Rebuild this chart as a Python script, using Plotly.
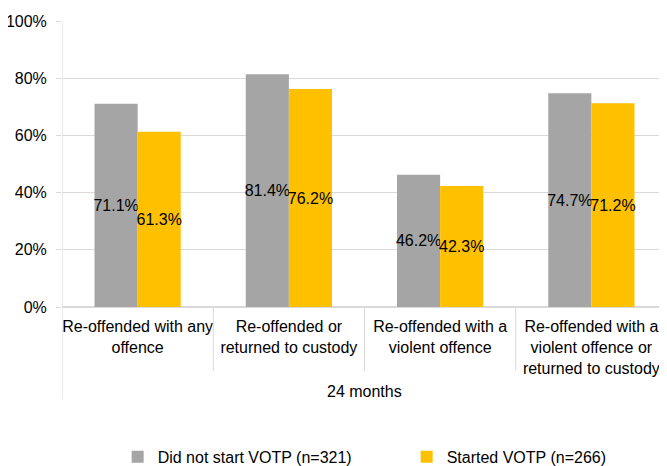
import plotly.graph_objects as go

categories = [
    "Re-offended with any<br>offence",
    "Re-offended or<br>returned to custody",
    "Re-offended with a<br>violent offence",
    "Re-offended with a<br>violent offence or<br>returned to custody",
]
group_label = "24 months"
series_names = ["Did not start VOTP (n=321)", "Started VOTP (n=266)"]
not_started = [0.711, 0.814, 0.462, 0.747]
started = [0.613, 0.762, 0.423, 0.712]

colors = ["#A5A5A5", "#FFC000"]
font = "Liberation Sans, Arial, sans-serif"
FS = 16

fig = go.Figure()
for name, vals, col in zip(series_names, [not_started, started], colors):
    fig.add_trace(go.Bar(
        x=categories, y=vals, name=name, marker_color=col, marker_line_width=0,
        text=[f"{v*100:.1f}%" for v in vals], textposition="inside",
        insidetextanchor="middle", textangle=0, constraintext="none",
        insidetextfont=dict(size=FS, color="#000000", family=font),
        cliponaxis=False, hoverinfo="skip"))

n = len(categories)
shapes = []
for i in range(1, n):
    shapes.append(dict(type="line", xref="x", yref="paper", x0=i - 0.5, x1=i - 0.5,
                       y0=0, y1=-0.224, line=dict(color="#D9D9D9", width=1)))
shapes.append(dict(type="line", xref="x", yref="paper", x0=-0.5, x1=-0.5,
                   y0=1, y1=-0.322, line=dict(color="#D9D9D9", width=1)))

fig.update_layout(
    width=659, height=458,
    margin=dict(l=54, r=0, t=13, b=159, autoexpand=False),
    paper_bgcolor="white", plot_bgcolor="white",
    barmode="group", bargap=0.43, bargroupgap=0,
    font=dict(family=font, size=FS, color="#000000"),
    xaxis=dict(type="category", showgrid=False, showline=False, ticks="",
               tickfont=dict(size=FS, color="#000000"), range=[-0.5, n - 0.5],
               ticklabelstandoff=8),
    yaxis=dict(range=[0, 1], dtick=0.2, tickformat=".0%", showgrid=True,
               gridcolor="#D9D9D9", gridwidth=1, zeroline=True, zerolinecolor="#D9D9D9",
               showline=False, ticks="outside", ticklen=5, tickcolor="#D9D9D9",
               ticklabelstandoff=6, ticklabeloverflow="allow",
               tickfont=dict(size=FS, color="#000000")),
    legend=dict(orientation="h", x=0.092, xanchor="left", y=-0.524, yanchor="middle",
                font=dict(size=FS, color="#000000"), itemwidth=30, entrywidth=244,
                traceorder="normal"),
    annotations=[dict(x=0.5, y=-0.332, xref="paper", yref="paper",
                      text=group_label, showarrow=False,
                      font=dict(size=FS, color="#000000", family=font))],
    shapes=shapes,
)
fig.write_html("out.html")
